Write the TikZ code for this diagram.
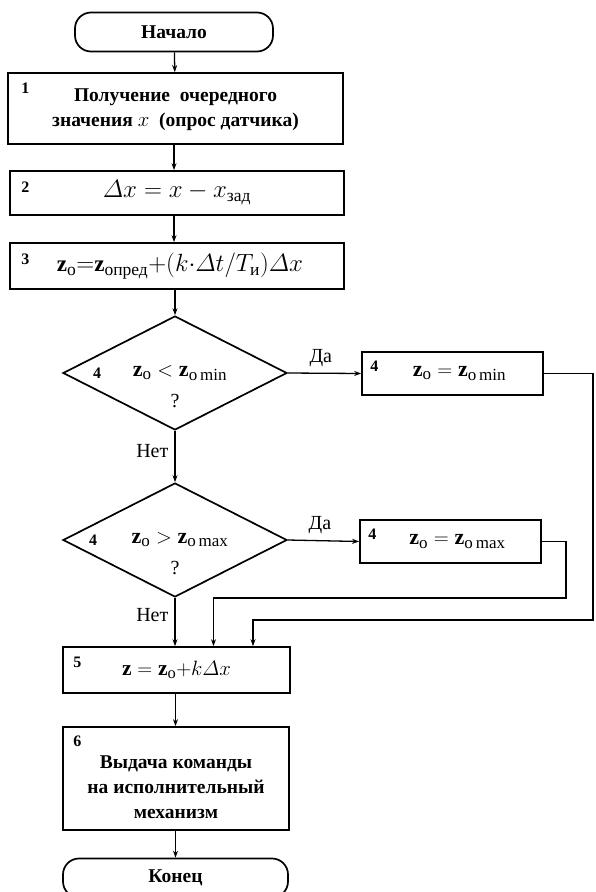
\documentclass[tikz,border=0pt]{standalone}
\usepackage{fontspec}
\setmainfont{Liberation Serif}
\usepackage{amsmath}
\usetikzlibrary{arrows.meta,positioning,calc,shapes.geometric}
\DeclareMathSizes{23}{23}{17.5}{13}
\DeclareMathSizes{22}{22}{17}{13}
\DeclareMathSizes{21.5}{21.5}{16.5}{12}
\tikzset{
  txtfont/.style={font=\bfseries\fontsize{19.5}{25}\selectfont},
  formfont/.style={font=\fontsize{#1}{26}\selectfont},
  formfont/.default=23,
  blokbox/.style={draw, line width=1.7pt, minimum width=#1, align=center,
    inner sep=2pt, txtfont},
  blokbox/.default=227pt,
  termbox/.style={draw, line width=1.7pt, rounded corners=16pt, minimum width=#1,
    minimum height=39pt, align=center, txtfont},
  termbox/.default=226pt,
  uslbox/.style={draw, diamond, line width=1.7pt, minimum width=224pt,
    minimum height=114pt, inner sep=0pt},
  numlbl/.style={anchor=north west, inner sep=0pt, font=\bfseries\fontsize{16}{18}\selectfont},
  flowarr/.style={-{Stealth[length=7pt, width=5pt]}, line width=1.3pt},
  flowlbl/.style={inner sep=1pt, font=\fontsize{20}{22}\selectfont},
}
\newcommand{\zo}{\mathbf{z}_{\mathrm{o}}}

\begin{document}
\begin{tikzpicture}[x=1pt, y=-1pt]
  \useasboundingbox (0,0) rectangle (595,892);

  \node[termbox=198pt] (nachalo) at (174,32) {Начало};
  \node[blokbox=335pt, minimum height=71pt] (b1) at (175.5,108.5)
    {\raisebox{-5pt}{\begin{tabular}{@{}c@{}}Получение\ \ очередного\\ значения $x$\ \ (опрос датчика)\end{tabular}}};
  \node[blokbox=334pt, minimum height=44pt, formfont] (b2) at (177,193)
    {$\varDelta x = x - x_{\text{зад}}$};
  \node[blokbox=334pt, minimum height=46pt, formfont] (b3) at (177,266)
    {\hspace*{6pt}$\zo{=}\mathbf{z}_{\text{опред}}{+}(k{\cdot}\varDelta t/T_{\text{и}})\varDelta x$};
  \node[numlbl] (n1) at ($(b1.north west)+(14,11)$) {1};
  \node[numlbl] (n2) at ($(b2.north west)+(12,12)$) {2};
  \node[numlbl] (n3) at ($(b3.north west)+(12,12)$) {3};

  % ---- проверка z_o < z_o min ----
  \node[uslbox] (d1) at (175,373) {};
  \node[formfont=22] (t1) at ($(d1.center)+(5,0)$) {$\zo < \mathbf{z}_{\mathrm{o\,min}}$};
  \node[flowlbl] (q1) at ($(d1.center)+(0,28)$) {?};
  \node[numlbl, anchor=center] (n4a) at ($(d1.west)+(35,0)$) {4};
  \node[blokbox=181pt, minimum height=43pt, formfont=22] (b4a) at (452.5,373.5)
    {\hspace*{14pt}$\zo = \mathbf{z}_{\mathrm{o\,min}}$};
  \node[numlbl] (n4b) at ($(b4a.north west)+(9,10)$) {4};

  % ---- проверка z_o > z_o max ----
  \node[uslbox] (d2) at (175,540) {};
  \node[formfont=22] (t2) at ($(d2.center)+(5,0)$) {$\zo > \mathbf{z}_{\mathrm{o\,max}}$};
  \node[flowlbl] (q2) at ($(d2.center)+(0,28)$) {?};
  \node[numlbl, anchor=center] (n4c) at ($(d2.west)+(31,0)$) {4};
  \node[blokbox=181pt, minimum height=43pt, formfont=22] (b4b) at (450.5,541.5)
    {\hspace*{14pt}$\zo = \mathbf{z}_{\mathrm{o\,max}}$};
  \node[numlbl] (n4d) at ($(b4b.north west)+(9,10)$) {4};

  \node[blokbox=227pt, minimum height=46pt, formfont=21.5] (b5) at (176.5,670)
    {$\mathbf{z} = \zo{+}k\varDelta x$};
  \node[numlbl] (n5) at ($(b5.north west)+(11,11)$) {5};
  \node[blokbox=226pt, minimum height=103pt] (b6) at (176,778.5)
    {\\[5pt]Выдача команды\\ на исполнительный\\ механизм};
  \node[numlbl] (n6) at ($(b6.north west)+(11,10)$) {6};
  \node[termbox=225pt] (konec) at (175.5,878) {Конец};

  \coordinate (minbus) at (593,620);
  \coordinate (maxbus) at (566,598);

  \draw[flowarr] (nachalo) -- (b1);
  \draw[flowarr] (b1.south -| nachalo) -- (b2.north -| nachalo);
  \draw[flowarr] (b2.south -| nachalo) -- (b3.north -| nachalo);
  \draw[flowarr] (b3.south -| d1) -- (d1.north);
  \draw[flowarr] (d1.south) -- node[flowlbl, left=5pt, pos=0.4] (net1) {Нет} (d2.north);
  \draw[flowarr] (d2.south) -- node[flowlbl, left=5pt, pos=0.35] (net2) {Нет} (b5.north -| d2);
  \draw[flowarr] (d1.east) -- node[flowlbl, above=5pt, pos=0.45] (da1) {Да} (b4a.west);
  \draw[flowarr] (d2.east) -- node[flowlbl, above=5pt, pos=0.45] (da2) {Да} (b4b.west);
  \draw[flowarr] (b4a.east) -| (minbus) -| ($(b5.north)+(76.5,0)$);
  \draw[flowarr] (b4b.east) -| (maxbus) -| ($(b5.north)+(37,0)$);
  \draw[flowarr] (b5.south -| konec) -- (b6.north -| konec);
  \draw[flowarr] (b6.south -| konec) -- (konec);
\end{tikzpicture}
\end{document}
